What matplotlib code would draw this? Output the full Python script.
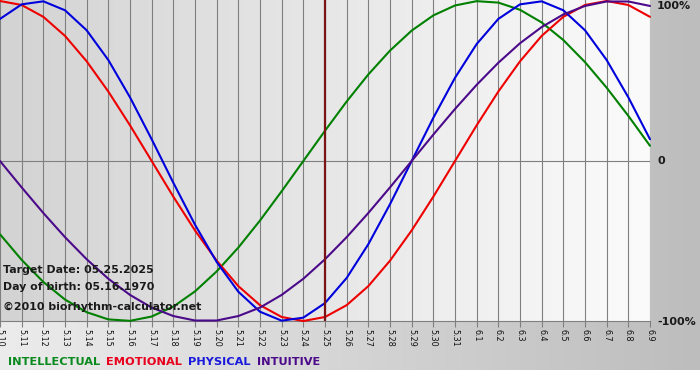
import numpy as np
import matplotlib
matplotlib.use("Agg")
import matplotlib.pyplot as plt
from matplotlib.colors import LinearSegmentedColormap

# ---- data ----
dates = ['5.10', '5.11', '5.12', '5.13', '5.14', '5.15', '5.16', '5.17', '5.18', '5.19',
         '5.20', '5.21', '5.22', '5.23', '5.24', '5.25', '5.26', '5.27', '5.28', '5.29',
         '5.30', '5.31', '6.1', '6.2', '6.3', '6.4', '6.5', '6.6', '6.7', '6.8', '6.9']

intellectual = [-0.458, -0.618, -0.756, -0.866, -0.945, -0.990, -0.999, -0.972, -0.910, -0.815,
                -0.690, -0.541, -0.372, -0.189, 0.000, 0.189, 0.372, 0.541, 0.690, 0.815,
                0.910, 0.972, 0.999, 0.990, 0.945, 0.866, 0.756, 0.618, 0.458, 0.282, 0.095]

emotional = [1.000, 0.975, 0.901, 0.782, 0.623, 0.434, 0.223, 0.000, -0.223, -0.434,
             -0.623, -0.782, -0.901, -0.975, -1.000, -0.975, -0.901, -0.782, -0.623, -0.434,
             -0.223, 0.000, 0.223, 0.434, 0.623, 0.782, 0.901, 0.975, 1.000, 0.975, 0.901]

physical = [0.888, 0.979, 0.998, 0.942, 0.817, 0.631, 0.398, 0.136, -0.136, -0.398,
            -0.631, -0.817, -0.942, -0.998, -0.979, -0.888, -0.731, -0.520, -0.270, 0.000,
            0.270, 0.520, 0.731, 0.888, 0.979, 0.998, 0.942, 0.817, 0.631, 0.398, 0.136]

intuitive = [0.000, -0.165, -0.325, -0.476, -0.614, -0.736, -0.837, -0.916, -0.969, -0.997,
             -0.997, -0.969, -0.916, -0.837, -0.736, -0.614, -0.476, -0.325, -0.165, 0.000,
             0.165, 0.325, 0.476, 0.614, 0.736, 0.837, 0.916, 0.969, 0.997, 0.997, 0.969]

series_names = ['INTELLECTUAL', 'EMOTIONAL', 'PHYSICAL', 'INTUITIVE']
series_values = [intellectual, emotional, physical, intuitive]
series_colors = ['#008000', '#ee0000', '#0000dd', '#4b0a8a']
legend_colors = ['#0a8a1e', '#e8001c', '#1a1adc', '#4b0a8a']

target_date = '5.25'
target_text = 'Target Date: 05.25.2025'
birth_text = 'Day of birth: 05.16.1970'
credit_text = '\u00a92010 biorhythm-calculator.net'
right_labels = ['100%', '0', '-100%']

W, H = 700, 380
fig = plt.figure(figsize=(W / 100, H / 100), dpi=100)
fig.patch.set_facecolor('white')

# outer gradient background
bg = fig.add_axes([0, 0, 1, 1])
bg.set_axis_off()
bg.set_xlim(0, W)
bg.set_ylim(0, H)
grad = np.linspace(0, 1, 256).reshape(1, -1)
cmap_out = LinearSegmentedColormap.from_list('o', ['#ececec', '#bdbdbd'])
bg.imshow(grad, cmap=cmap_out, aspect='auto', extent=[0, W, 10, H], zorder=0)

# main plot axes
ax_bottom_px = 321
ax = fig.add_axes([0, 1 - ax_bottom_px / H, 650 / W, ax_bottom_px / H])
ax.patch.set_alpha(0)
x = np.arange(len(dates))
ax.set_xlim(0, len(dates) - 1)
ytop = 1 + 1 / 160
ax.set_ylim(-1, ytop)
cmap_in = LinearSegmentedColormap.from_list('i', ['#d3d3d3', '#fbfbfb'])
ax.imshow(grad, cmap=cmap_in, aspect='auto', extent=[0, len(dates) - 1, -1, ytop], zorder=0)

for xi in x:
    ax.axvline(xi, color='#7f7f7f', lw=0.8, zorder=1)
ax.axhline(0, color='#7f7f7f', lw=0.8, zorder=1)

for vals, col in zip(series_values, series_colors):
    ax.plot(x, vals, color=col, lw=1.5, zorder=3, solid_joinstyle='round',
            solid_capstyle='round', clip_on=False)

ax.axvline(dates.index(target_date), color='#7a1414', lw=1.6, zorder=4)

for s in ['top', 'left', 'right']:
    ax.spines[s].set_visible(False)
ax.spines['bottom'].set_color('#7f7f7f')
ax.spines['bottom'].set_linewidth(0.8)
ax.set_yticks([])
ax.set_xticks(x)
ax.set_xticklabels(dates, rotation=-90, fontsize=5.8, color='#111111')
ax.tick_params(axis='x', length=4, color='#7f7f7f', width=0.8, pad=1.5)

# right-side labels
for lab, ypx in zip(right_labels, [6, 161, 322]):
    fig.text(657 / W, 1 - ypx / H, lab, fontsize=8, fontweight='bold', color='#1a1a1a',
             ha='left', va='center')

# info texts
for txt, ypx in zip([target_text, birth_text, credit_text], [270, 287, 307]):
    fig.text(3 / W, 1 - ypx / H, txt, fontsize=7.9, fontweight='bold', color='#1a1a1a',
             ha='left', va='center')

# legend texts
xpos = 8
for name, col in zip(series_names, legend_colors):
    t = fig.text(xpos / W, 1 - 362 / H, name, fontsize=8.2, fontweight='bold', color=col,
                 ha='left', va='center')
    fig.canvas.draw()
    bb = t.get_window_extent()
    xpos = bb.x1 + 6

fig.savefig('out.png', dpi=100)
